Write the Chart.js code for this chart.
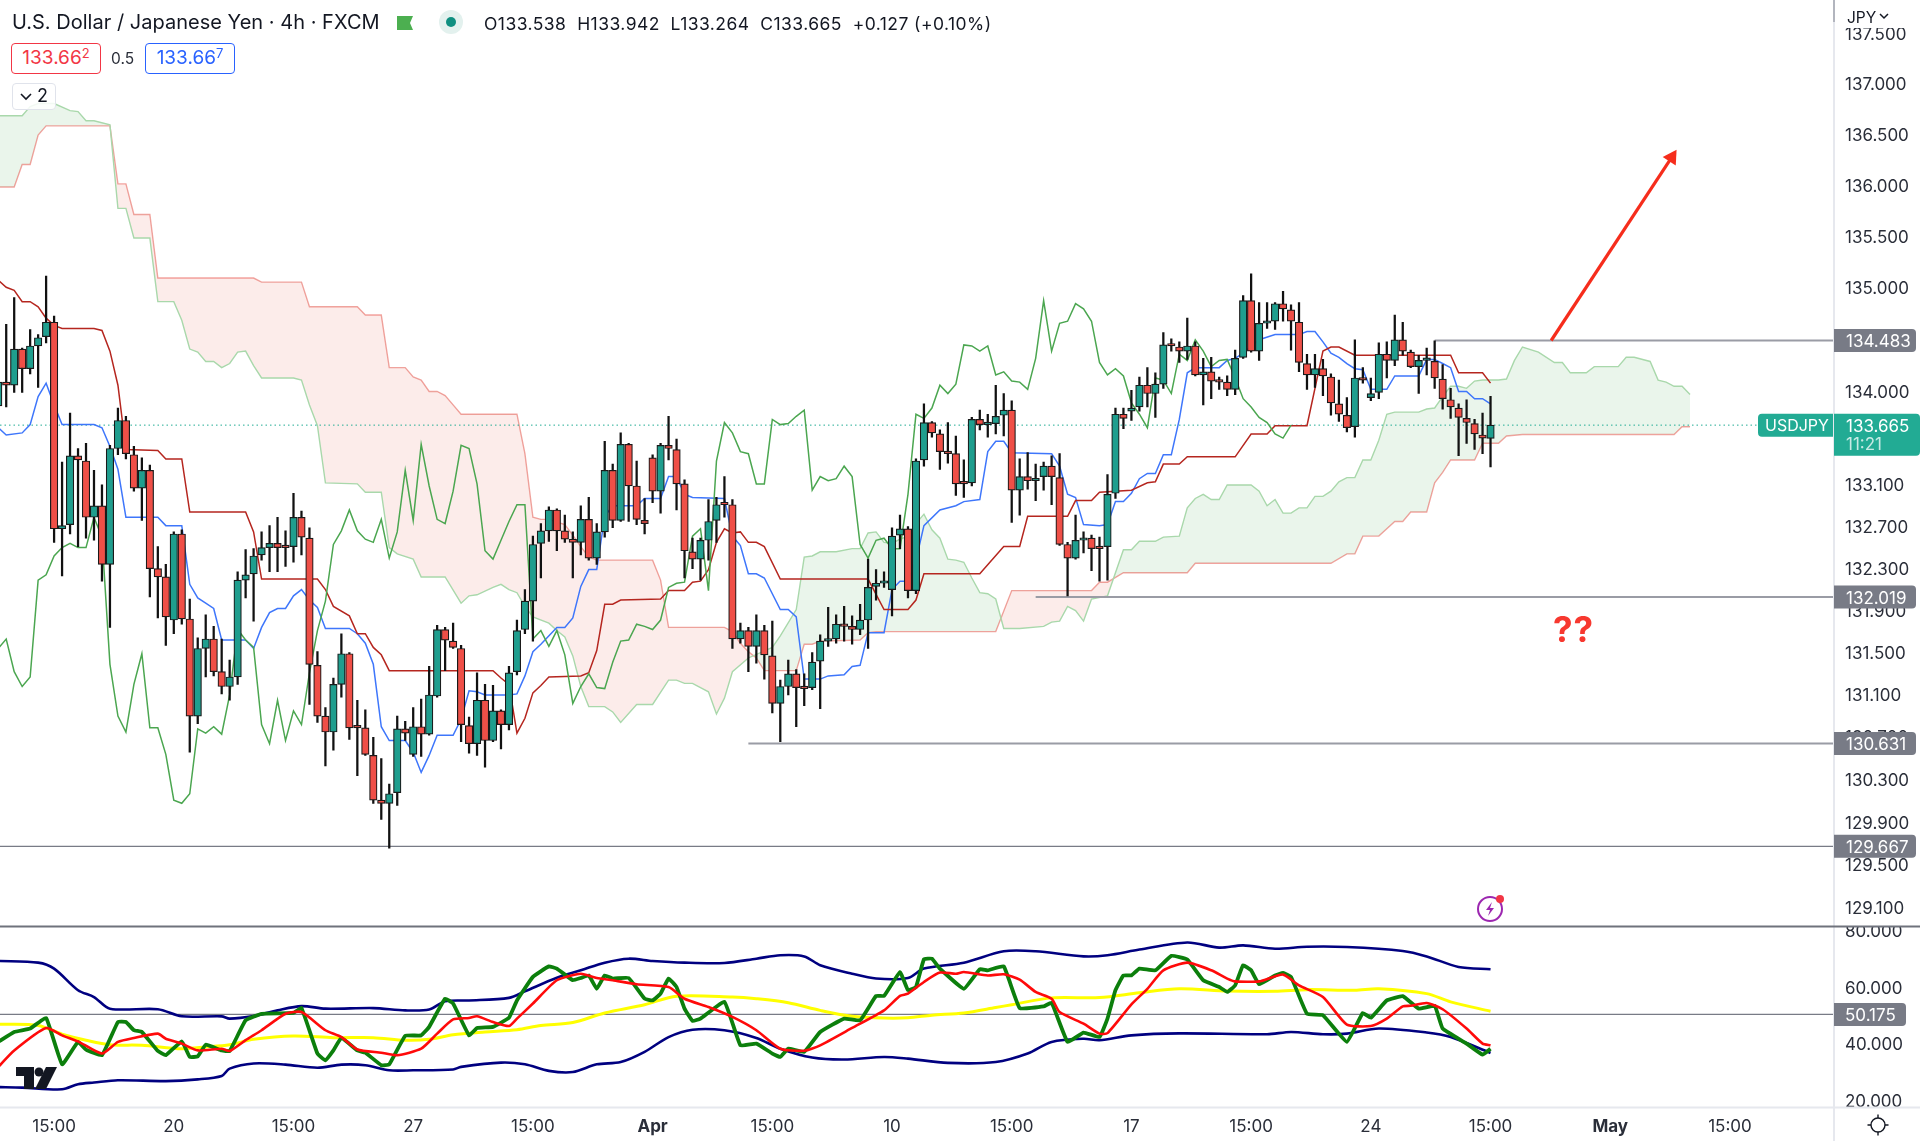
<!DOCTYPE html>
<html><head><meta charset="utf-8">
<script src="https://cdn.jsdelivr.net/npm/chart.js@4/dist/chart.umd.min.js"></script>
<style>
html,body{margin:0;padding:0;background:#fff;width:1920px;height:1141px;overflow:hidden;font-family:Inter,"Liberation Sans",sans-serif;color:#131722}
#c{position:absolute;left:0;top:0}
.o{position:absolute;white-space:nowrap}
.box{position:absolute;box-sizing:border-box;border-radius:4px;background:#fff;font-size:19px;text-align:center;line-height:28px;height:31px;top:43px}
sup{font-size:13px;vertical-align:6px;line-height:0}
</style></head><body>
<canvas id="c" width="1920" height="1141"></canvas>
<div class="o" style="left:12px;top:10px;font-size:20px;line-height:24px;letter-spacing:.02px">U.S. Dollar / Japanese Yen · 4h · FXCM</div>
<svg class="o" style="left:397px;top:13px" width="20" height="20"><path d="M0 3H16L13 10L16 17H0Z" fill="#4caf50"/></svg>
<svg class="o" style="left:438px;top:9px" width="26" height="26"><circle cx="13" cy="13" r="12" fill="#e3f1ee"/><circle cx="13" cy="13" r="5" fill="#0f8f80"/></svg>
<div class="o" style="left:484px;top:13px;font-size:17.5px;line-height:22px;letter-spacing:.45px;word-spacing:0">O133.538&nbsp; H133.942&nbsp; L133.264&nbsp; C133.665&nbsp; +0.127 (+0.10%)</div>
<div class="box" style="left:11px;width:90px;border:1.5px solid #f23645;color:#f23645">133.66<sup>2</sup></div>
<div class="o" style="left:111px;top:49px;font-size:15.5px;line-height:20px;color:#2a2e39">0.5</div>
<div class="box" style="left:145px;width:90px;border:1.5px solid #2962ff;color:#2962ff">133.66<sup>7</sup></div>
<div class="o" style="left:12px;top:83px;width:44px;height:27px;box-sizing:border-box;border:1.5px solid #e0e3eb;border-radius:4px;background:rgba(255,255,255,.85);font-size:18px;line-height:24px"><svg style="position:absolute;left:6px;top:8px" width="14" height="10"><path d="M2 2L7 7L12 2" fill="none" stroke="#131722" stroke-width="1.6"/></svg><span style="position:absolute;left:24px">2</span></div>
<div class="o" style="left:1570px;top:608px;transform:translateX(-17px);font-size:35px;font-weight:700;line-height:42px;color:#f7382f;letter-spacing:1px">??</div>
<svg class="o" style="left:1475px;top:892px" width="32" height="32"><circle cx="15" cy="17" r="12" fill="#fff" stroke="#9c27b0" stroke-width="2"/><path d="M17 10L11 18H15L13 24L19 16H15Z" fill="#9c27b0"/><circle cx="25" cy="7" r="4" fill="#f23645"/></svg>
<svg class="o" style="left:14px;top:1065px" width="46" height="26"><path d="M2 2H20V24H10V11H2Z" fill="#131722"/><circle cx="25" cy="7" r="4.5" fill="#131722"/><path d="M32 2H43L32 24H21Z" fill="#131722"/></svg>
<div class="o" style="left:1847px;top:8px;font-size:15.5px;line-height:20px;z-index:2">JPY<svg style="margin-left:3px;vertical-align:3px" width="10" height="7"><path d="M1 1L5 5L9 1" fill="none" stroke="#131722" stroke-width="1.5"/></svg></div>
<svg class="o" style="left:1866px;top:1113px;z-index:2" width="24" height="24" fill="none" stroke="#131722" stroke-width="1.4"><circle cx="12" cy="12" r="7"/><path d="M12 1.5V5M12 19V22.5M1.5 12H5M19 12H22.5"/></svg>
<script>
// --- candles (USD/JPY, 4h) ---
const opens=[133.85,134.08,134.05,134.40,134.21,134.43,134.52,134.66,132.67,132.71,133.37,133.32,132.78,132.89,132.33,133.44,133.71,133.38,133.06,133.23,132.29,132.21,131.80,132.62,131.81,130.89,131.53,131.62,131.31,131.17,131.26,132.18,132.24,132.42,132.49,132.53,132.50,132.50,132.78,132.58,131.37,130.89,130.74,131.19,131.48,130.79,130.78,130.52,130.10,130.07,130.17,130.77,130.53,130.79,130.72,131.08,131.71,131.60,131.53,130.80,130.63,131.04,130.66,130.94,130.81,131.31,131.71,131.98,132.53,132.65,132.85,132.65,132.57,132.54,132.76,132.39,132.64,133.23,132.75,133.48,133.08,132.75,133.35,133.03,133.47,133.43,133.10,132.45,132.38,132.56,132.75,132.91,132.90,131.62,131.70,131.55,131.70,131.46,131.01,131.17,131.29,131.16,131.16,131.41,131.60,131.62,131.76,131.74,131.71,131.80,132.12,132.15,132.09,132.61,132.67,132.08,133.33,133.69,133.58,133.40,133.39,133.11,133.11,133.72,133.67,133.68,133.76,133.81,133.04,133.17,133.13,133.17,133.27,133.16,132.52,132.39,132.56,132.58,132.49,132.50,133.01,133.77,133.80,133.84,134.05,133.97,134.06,134.44,134.42,134.38,134.43,134.15,134.18,134.09,134.08,134.01,134.32,134.87,134.38,134.65,134.67,134.84,134.78,134.66,134.26,134.15,134.21,134.13,133.87,133.76,133.65,134.12,133.93,133.98,134.35,134.29,134.49,134.37,134.23,134.29,134.28,134.11,133.91,133.83,133.73,133.68,133.57,133.538];
const highs=[134.16,134.64,134.90,134.41,134.59,134.54,135.11,134.72,133.31,133.78,133.44,133.49,133.23,133.09,133.47,133.83,133.75,133.46,133.35,133.28,132.50,132.33,132.64,132.66,132.00,131.63,131.85,131.74,131.62,131.42,132.26,132.47,132.48,132.64,132.70,132.78,132.65,133.01,132.84,132.68,131.50,130.97,131.25,131.67,131.49,131.04,130.95,130.69,130.49,130.25,130.89,130.84,130.97,131.05,131.36,131.75,131.73,131.77,131.56,130.88,131.30,131.19,131.18,130.95,131.36,131.80,132.09,132.60,132.72,132.88,132.86,132.80,132.64,132.89,132.97,132.72,133.51,133.29,133.59,133.49,133.32,132.96,133.38,133.49,133.75,133.53,133.14,132.58,132.58,132.95,132.97,133.17,132.95,131.77,131.73,131.85,131.75,131.79,131.23,131.42,131.33,131.29,131.49,131.66,131.92,131.85,131.93,131.84,131.95,132.38,132.28,132.26,132.68,132.80,132.69,133.34,133.87,133.70,133.62,133.69,133.56,133.33,133.74,133.81,133.77,134.05,133.97,133.90,133.34,133.40,133.29,133.31,133.37,133.39,132.54,132.80,132.64,132.61,132.59,133.19,133.83,133.83,134.00,134.13,134.22,134.17,134.56,134.50,134.47,134.70,134.47,134.31,134.32,134.13,134.14,134.39,134.92,135.13,134.85,134.85,134.85,134.96,134.83,134.85,134.35,134.35,134.30,134.16,134.10,133.93,134.49,134.22,134.12,134.46,134.47,134.73,134.66,134.39,134.34,134.41,134.48,134.25,134.02,133.87,133.91,133.72,133.78,133.942];
const lows=[133.81,133.84,133.98,133.98,134.16,134.03,134.46,132.54,132.22,132.62,132.50,132.58,132.56,132.17,131.73,133.38,133.34,133.03,132.75,132.02,131.82,131.56,131.67,131.76,130.55,130.82,131.26,131.27,131.10,131.04,131.19,132.01,131.79,132.37,132.26,132.26,132.31,132.35,132.42,131.00,130.83,130.42,130.57,131.07,130.67,130.33,130.52,130.07,129.92,129.65,130.05,130.66,130.51,130.51,130.71,131.07,131.32,131.53,130.65,130.54,130.52,130.41,130.65,130.58,130.76,131.28,131.67,131.60,132.20,132.55,132.46,132.54,132.20,132.42,132.37,132.33,132.59,132.68,132.74,132.74,132.71,132.62,132.92,132.82,133.33,132.85,132.20,132.29,132.18,132.37,132.54,132.78,131.53,131.58,131.31,131.39,131.24,130.92,130.65,131.09,130.79,130.99,131.14,130.96,131.55,131.58,131.60,131.57,131.66,131.53,131.99,132.11,131.84,132.48,132.01,132.05,133.27,133.55,133.24,133.30,132.99,132.97,133.08,133.62,133.55,133.58,133.56,132.73,132.80,133.05,132.94,133.04,132.90,132.51,132.03,132.38,132.44,132.27,132.17,132.18,132.96,133.63,133.71,133.80,133.84,133.74,134.02,134.38,134.27,134.30,134.14,133.86,133.92,134.01,133.95,133.96,134.31,134.37,134.29,134.60,134.59,134.67,134.39,134.18,134.01,134.03,133.95,133.76,133.70,133.60,133.55,134.07,133.90,133.92,134.12,134.24,134.34,134.22,133.97,134.15,134.02,133.82,133.73,133.37,133.49,133.43,133.39,133.264];
const closes=[134.08,134.05,134.40,134.21,134.43,134.51,134.66,132.67,132.70,133.37,133.33,132.78,132.89,132.33,133.44,133.71,133.39,133.06,133.23,132.29,132.21,131.83,132.62,131.81,130.89,131.53,131.62,131.31,131.17,131.26,132.18,132.23,132.41,132.49,132.53,132.49,132.49,132.78,132.59,131.38,130.89,130.74,131.19,131.48,130.78,130.78,130.53,130.10,130.07,130.16,130.77,130.73,130.79,130.72,131.09,131.71,131.61,131.54,130.81,130.63,131.04,130.66,130.94,130.81,131.30,131.70,131.98,132.52,132.65,132.85,132.65,132.57,132.54,132.76,132.39,132.64,133.23,132.75,133.48,133.08,132.76,132.72,133.03,133.47,133.44,133.10,132.46,132.38,132.56,132.74,132.90,132.90,131.62,131.70,131.55,131.70,131.47,131.01,131.17,131.29,131.16,131.15,131.40,131.60,131.61,131.76,131.74,131.71,131.80,132.11,132.15,132.16,132.60,132.67,132.08,133.32,133.69,133.59,133.41,133.39,133.10,133.10,133.72,133.67,133.68,133.75,133.81,133.04,133.17,133.13,133.15,133.27,133.17,132.52,132.39,132.56,132.58,132.48,132.48,133.00,133.77,133.73,133.83,134.05,133.97,134.06,134.44,134.43,134.38,134.43,134.15,134.18,134.09,134.08,134.01,134.31,134.87,134.38,134.65,134.67,134.84,134.79,134.67,134.27,134.15,134.21,134.14,133.88,133.77,133.64,134.12,134.10,133.97,134.35,134.29,134.49,134.38,134.23,134.29,134.30,134.12,133.92,133.84,133.74,133.69,133.58,133.54,133.665];
// --- ichimoku lines: [bar, price] ---
const chikou=[131.53,131.62,131.31,131.17,131.26,132.18,132.23,132.41,132.49,132.53,132.49,132.49,132.78,132.59,131.38,130.89,130.74,131.19,131.48,130.78,130.78,130.53,130.10,130.07,130.16,130.77,130.73,130.79,130.72,131.09,131.71,131.61,131.54,130.81,130.63,131.04,130.66,130.94,130.81,131.30,131.70,131.98,132.52,132.65,132.85,132.65,132.57,132.54,132.76,132.39,132.64,133.23,132.75,133.48,133.08,132.76,132.72,133.03,133.47,133.44,133.10,132.46,132.38,132.56,132.74,132.90,132.90,131.62,131.70,131.55,131.70,131.47,131.01,131.17,131.29,131.16,131.15,131.40,131.60,131.61,131.76,131.74,131.71,131.80,132.11,132.15,132.16,132.60,132.67,132.08,133.32,133.69,133.59,133.41,133.39,133.10,133.10,133.72,133.67,133.68,133.75,133.81,133.04,133.17,133.13,133.15,133.27,133.17,132.52,132.39,132.56,132.58,132.48,132.48,133.00,133.77,133.73,133.83,134.05,133.97,134.06,134.44,134.43,134.38,134.43,134.15,134.18,134.09,134.08,134.01,134.31,134.87,134.38,134.65,134.67,134.84,134.79,134.67,134.27,134.15,134.21,134.14,133.88,133.77,133.64,134.12,134.10,133.97,134.35,134.29,134.49,134.38,134.23,134.29,134.30,134.12,133.92,133.84,133.74,133.69,133.58,133.54,133.665];
const tenkan=[[0,133.64],[1,133.57],[3,133.59],[4,133.67],[5,133.94],[6,134.07],[7,133.86],[8,133.67],[12,133.67],[13,133.64],[14,133.46],[15,133.24],[16,132.78],[20,132.78],[21,132.70],[23,132.70],[24,132.14],[25,132.01],[26,131.96],[27,131.91],[28,131.61],[31,131.61],[32,131.53],[33,131.73],[34,131.87],[35,131.91],[36,131.91],[37,132.03],[38,132.09],[39,131.99],[40,131.92],[41,131.72],[44,131.72],[45,131.67],[46,131.58],[47,131.38],[48,130.79],[49,130.66],[51,130.66],[52,130.55],[53,130.36],[54,130.52],[55,130.71],[57,130.71],[58,130.86],[59,131.13],[60,131.12],[61,131.09],[64,131.09],[65,131.10],[66,131.27],[67,131.50],[68,131.57],[70,131.73],[71,131.73],[72,131.82],[73,132.12],[74,132.28],[75,132.28],[76,132.79],[77,132.89],[80,132.89],[81,132.96],[83,132.96],[84,133.17],[85,133.17],[86,133.00],[87,132.97],[91,132.96],[92,132.60],[93,132.51],[94,132.24],[95,132.24],[96,132.20],[98,131.90],[99,131.90],[100,131.83],[101,131.24],[103,131.24],[104,131.27],[106,131.28],[107,131.36],[108,131.37],[109,131.68],[111,131.68],[112,132.09],[113,132.17],[114,132.17],[115,132.37],[116,132.70],[118,132.85],[120,132.89],[121,132.93],[123,132.95],[124,133.41],[125,133.51],[126,133.51],[127,133.40],[132,133.39],[133,133.27],[134,133.00],[135,132.97],[136,132.71],[138,132.70],[139,132.71],[140,132.93],[141,132.93],[142,133.01],[143,133.15],[144,133.20],[145,133.20],[146,133.38],[147,133.38],[148,133.72],[149,134.17],[150,134.22],[153,134.22],[154,134.29],[155,134.31],[156,134.36],[158,134.49],[160,134.54],[163,134.54],[164,134.57],[165,134.57],[166,134.47],[167,134.36],[168,134.32],[169,134.26],[170,134.21],[171,134.20],[172,134.01],[174,134.01],[175,134.14],[178,134.14],[179,134.30],[180,134.30],[181,134.26],[182,134.22],[183,133.99],[184,133.99],[185,133.92],[186,133.92],[187,133.87]];
const kijun=[[0,135.07],[1,135.00],[2,134.97],[3,134.86],[4,134.86],[5,134.81],[6,134.70],[7,134.63],[8,134.60],[12,134.60],[13,134.58],[14,134.38],[15,134.05],[16,133.43],[20,133.42],[21,133.34],[23,133.34],[24,132.83],[31,132.83],[32,132.64],[33,132.19],[40,132.19],[41,132.09],[42,131.93],[44,131.84],[45,131.67],[46,131.67],[47,131.54],[48,131.47],[49,131.32],[62,131.32],[63,131.25],[64,131.19],[65,130.73],[66,130.87],[67,131.11],[68,131.18],[69,131.26],[73,131.27],[74,131.30],[75,131.51],[76,131.95],[77,131.95],[78,131.99],[83,132.00],[84,132.08],[86,132.08],[87,132.16],[88,132.17],[89,132.28],[90,132.54],[91,132.67],[92,132.63],[93,132.64],[94,132.54],[95,132.54],[96,132.50],[98,132.19],[109,132.19],[111,131.90],[114,131.90],[115,131.99],[116,132.24],[123,132.24],[126,132.50],[128,132.50],[129,132.79],[134,132.79],[135,132.94],[137,132.94],[138,133.02],[142,133.04],[144,133.11],[145,133.12],[146,133.29],[148,133.29],[149,133.36],[155,133.36],[157,133.58],[159,133.58],[160,133.66],[164,133.66],[166,134.38],[167,134.42],[168,134.42],[170,134.34],[182,134.34],[183,134.17],[186,134.17],[187,134.07]];
const senkouA=[[0,136.68],[3,136.68],[4,136.77],[5,136.80],[7,136.80],[9,136.73],[10,136.72],[11,136.63],[12,136.63],[14,136.59],[15,135.77],[16,135.77],[17,135.48],[19,135.48],[20,134.86],[22,134.86],[23,134.68],[24,134.40],[25,134.37],[26,134.28],[27,134.28],[28,134.22],[29,134.26],[30,134.37],[31,134.38],[32,134.24],[33,134.12],[37,134.12],[38,134.10],[39,133.86],[40,133.66],[41,133.11],[45,133.10],[46,133.02],[48,133.02],[49,132.49],[50,132.43],[52,132.38],[53,132.21],[56,132.21],[58,131.96],[59,132.03],[60,132.04],[62,132.11],[63,132.14],[64,132.09],[65,132.06],[66,131.93],[67,131.83],[69,131.77],[70,131.70],[71,131.64],[72,131.46],[73,131.17],[74,130.98],[76,130.98],[77,130.93],[78,130.83],[80,131.00],[82,131.00],[84,131.23],[85,131.23],[86,131.20],[87,131.20],[89,131.12],[90,130.91],[91,131.06],[92,131.31],[94,131.44],[97,131.54],[98,131.65],[100,131.90],[101,132.40],[102,132.41],[103,132.45],[105,132.45],[107,132.48],[108,132.48],[109,132.63],[110,132.64],[111,132.54],[112,132.53],[113,132.57],[114,132.60],[115,132.72],[116,132.81],[117,132.66],[118,132.58],[119,132.38],[120,132.37],[121,132.35],[122,132.20],[123,132.06],[124,132.05],[125,132.00],[126,131.72],[128,131.72],[131,131.74],[132,131.78],[133,131.79],[134,131.93],[135,131.89],[136,131.79],[137,132.00],[139,132.03],[141,132.47],[142,132.47],[143,132.55],[145,132.55],[146,132.59],[148,132.60],[149,132.87],[150,132.96],[151,133.00],[152,132.95],[153,132.95],[154,133.09],[157,133.09],[158,133.03],[159,132.89],[160,132.95],[161,132.82],[162,132.82],[163,132.87],[164,132.87],[165,132.98],[166,132.98],[167,133.03],[168,133.12],[169,133.16],[170,133.16],[171,133.33],[172,133.33],[173,133.52],[174,133.77],[175,133.79],[178,133.79],[179,133.82],[180,133.83],[181,133.94],[182,134.04],[183,134.04],[184,134.02],[185,134.09],[186,134.10],[188,134.10],[189,134.11],[190,134.29],[191,134.42],[193,134.37],[195,134.27],[196,134.27],[197,134.17],[199,134.17],[200,134.23],[203,134.23],[204,134.32],[205,134.32],[207,134.28],[208,134.10],[209,134.08],[210,134.04],[211,134.04],[212,133.96]];
const senkouB=[[0,135.98],[2,135.98],[3,136.20],[4,136.20],[5,136.49],[6,136.58],[14,136.58],[15,136.01],[16,136.01],[17,135.71],[19,135.71],[20,135.09],[32,135.09],[33,135.05],[38,135.05],[39,134.81],[45,134.81],[46,134.73],[48,134.73],[49,134.22],[51,134.22],[52,134.13],[53,134.10],[54,133.99],[55,133.99],[56,133.95],[57,133.86],[58,133.77],[65,133.77],[66,133.39],[67,132.78],[68,132.76],[69,132.76],[71,132.71],[72,132.61],[73,132.50],[74,132.40],[75,132.37],[82,132.37],[83,132.18],[84,131.73],[91,131.73],[92,131.69],[93,131.58],[94,131.50],[95,131.44],[96,131.32],[100,131.32],[101,131.57],[102,131.57],[103,131.60],[108,131.61],[109,131.68],[110,131.69],[125,131.69],[127,132.08],[137,132.08],[138,132.16],[139,132.16],[141,132.25],[149,132.25],[150,132.34],[167,132.34],[169,132.43],[170,132.43],[171,132.60],[173,132.60],[175,132.74],[176,132.74],[177,132.83],[179,132.83],[180,133.11],[181,133.21],[182,133.33],[185,133.33],[186,133.49],[188,133.49],[189,133.56],[191,133.575],[210,133.575],[211,133.65],[212,133.65]];
// --- oscillator lines: [bar, value] ---
const oscGreen=[[0,40.5],[2,44.0],[4,45.2],[6,48.9],[8,32.6],[10,40.5],[11,37.8],[13,35.8],[15,47.5],[16,47.5],[17,44.6],[18,44.0],[20,37.3],[21,35.8],[23,40.7],[24,35.2],[25,35.4],[26,39.5],[28,37.5],[29,37.3],[31,48.1],[33,50.4],[37,50.7],[38,52.4],[40,36.4],[41,34.0],[42,37.5],[43,41.9],[45,37.5],[46,36.7],[48,32.3],[49,32.6],[51,42.6],[53,42.8],[54,45.8],[56,55.7],[57,54.0],[59,42.8],[60,45.4],[62,45.8],[64,49.0],[65,55.1],[67,63.4],[69,67.1],[70,66.3],[72,62.2],[73,63.0],[74,63.9],[75,59.2],[76,63.9],[77,62.8],[79,63.0],[81,55.7],[82,55.1],[83,57.5],[84,62.8],[85,59.8],[86,52.2],[87,47.9],[88,48.7],[91,54.6],[93,39.3],[95,39.9],[97,36.4],[98,35.2],[99,38.1],[101,37.0],[103,44.0],[106,48.7],[108,48.1],[110,56.7],[111,56.7],[113,65.1],[114,58.7],[115,59.8],[116,69.6],[117,69.8],[118,66.3],[121,59.2],[123,66.1],[124,65.7],[126,67.1],[128,52.4],[131,53.0],[132,54.3],[134,40.5],[136,43.8],[138,42.2],[139,48.7],[140,58.7],[141,63.9],[142,63.9],[143,66.3],[145,65.7],[147,70.8],[149,69.5],[151,62.2],[153,59.8],[154,58.1],[155,60.4],[156,67.5],[157,65.7],[158,60.8],[160,63.9],[161,64.8],[162,63.4],[164,50.4],[166,49.9],[169,40.5],[171,50.7],[172,49.0],[174,55.1],[176,56.6],[178,52.2],[180,53.2],[181,45.2],[184,39.9],[186,36.0],[187,38.1]];
const oscRed=[[0,31.7],[2,37.5],[6,45.4],[8,42.8],[10,40.7],[13,36.4],[15,40.5],[17,41.9],[20,43.4],[21,41.6],[23,39.9],[25,37.5],[28,38.1],[29,37.3],[31,41.1],[33,44.6],[36,50.4],[38,51.0],[41,44.6],[43,42.2],[45,37.8],[48,36.7],[50,35.8],[53,38.1],[55,43.4],[57,48.4],[59,48.9],[60,49.5],[62,47.5],[64,46.1],[65,48.7],[67,54.0],[70,62.2],[73,64.5],[75,63.0],[77,62.2],[80,60.8],[84,59.8],[86,55.7],[89,52.8],[92,49.3],[95,44.6],[98,38.1],[101,37.4],[103,39.3],[107,45.4],[111,51.6],[113,56.7],[114,57.5],[116,61.6],[118,64.9],[120,64.5],[121,65.1],[124,63.9],[126,64.3],[128,62.4],[130,58.1],[132,55.7],[133,51.0],[136,46.9],[138,43.4],[139,43.6],[142,53.7],[144,59.2],[146,65.7],[149,68.4],[152,65.7],[154,62.8],[155,61.8],[158,61.8],[161,64.2],[163,60.4],[166,56.3],[169,46.6],[172,46.1],[174,48.7],[176,53.0],[177,53.2],[179,54.2],[181,52.0],[184,45.2],[186,39.9],[187,39.3]];
const oscYellow=[[0,46.7],[5,46.3],[8,43.2],[11,41.1],[14,39.5],[18,39.3],[23,38.1],[26,38.7],[29,39.5],[32,41.4],[37,42.6],[42,42.0],[47,42.0],[51,41.1],[54,41.4],[57,43.0],[61,44.0],[65,44.8],[68,46.3],[72,47.3],[76,50.7],[81,53.6],[85,56.6],[92,56.3],[95,55.7],[99,54.3],[103,51.6],[107,49.5],[111,48.9],[114,49.0],[117,49.9],[121,50.7],[125,52.6],[127,53.6],[132,56.0],[138,56.1],[143,57.8],[148,59.2],[154,58.4],[160,58.3],[164,58.9],[170,58.7],[173,59.2],[179,57.5],[182,54.6],[187,51.3]];
const oscUpper=[[0,69.0],[5,68.4],[7,66.3],[10,58.7],[12,56.3],[14,52.2],[20,52.0],[23,49.5],[28,49.5],[29,48.7],[32,49.6],[35,51.6],[38,53.1],[41,52.2],[47,52.4],[51,51.6],[54,51.9],[56,54.8],[59,55.1],[64,56.0],[66,58.3],[70,63.1],[73,65.7],[76,68.4],[79,69.8],[82,69.0],[86,68.4],[91,68.3],[95,69.8],[98,71.0],[101,70.6],[103,67.5],[107,64.5],[110,62.8],[114,63.0],[116,66.3],[121,68.4],[126,72.4],[130,72.4],[136,70.6],[139,71.0],[143,73.0],[149,75.5],[153,73.7],[156,74.5],[160,73.3],[164,74.0],[169,73.9],[176,72.5],[179,70.6],[183,66.9],[187,66.1]];
const oscLower=[[0,24.6],[3,24.4],[8,23.8],[10,25.6],[12,26.2],[15,27.0],[21,26.7],[25,27.3],[28,28.5],[29,31.1],[32,32.9],[36,32.5],[40,31.4],[43,32.5],[46,32.3],[49,30.5],[52,30.5],[57,30.8],[58,31.7],[63,33.2],[66,32.6],[69,30.3],[72,29.9],[75,32.6],[78,33.4],[81,37.0],[84,42.2],[87,44.8],[91,44.6],[95,41.9],[98,38.1],[102,35.0],[106,34.3],[111,35.2],[114,34.6],[119,33.1],[125,33.4],[129,36.4],[132,40.5],[136,41.6],[138,41.1],[142,42.8],[148,43.5],[159,43.2],[162,44.0],[166,43.2],[169,43.4],[173,45.2],[179,43.8],[182,42.2],[187,36.6]];
// --- levels, ticks, labels ---
const levelValues=[134.483,132.019,130.631,129.667];
const levelStartBars=[180,130,94,-1];
const oscLevel=50.175;
const lastPrice=133.665;
const countdown='11:21';
const symbol='USDJPY';
const arrowBars=[194.6,209.7];
const arrowPrices=[134.483,136.27];
const priceTicks=[137.5,137,136.5,136,135.5,135,134,133.1,132.7,132.3,131.9,131.5,131.1,130.7,130.3,129.9,129.5,129.1];
const oscTicks=[80,60,40,20];
const timeBars=[7,22,37,52,67,82,97,112,127,142,157,172,187,202,217];
const timeLabels=['15:00','20','15:00','27','15:00','Apr','15:00','10','15:00','17','15:00','24','15:00','May','15:00'];
const boldLabels=['Apr','May'];

const XMIN=0.2218, XMAX=230.04;
const TEAL='#1f9e8e', RED='#ef4f47', AXIS='#e6e8ee', GRAY='#787b86', FONT='Inter';
const pts=a=>a.map(p=>({x:p[0],y:p[1]}));
const idx=opens.map((_,i)=>i);
const candleColor=idx.map(i=>closes[i]>=opens[i]?TEAL:RED);
const line=(label,data,color,w,yAxisID,extra)=>Object.assign({type:'line',label,data:pts(data),borderColor:color,borderWidth:w,pointRadius:0,tension:0,yAxisID,xAxisID:'x',order:5},extra||{});

const datasets=[
  line('Senkou A',senkouA,'#a9d8ab',1.4,'y',{fill:{target:1,above:'rgba(67,160,71,0.11)',below:'rgba(229,72,60,0.105)'},order:9}),
  line('Senkou B',senkouB,'#f3a5a1',1.4,'y',{order:9}),
  line('Chikou',chikou.map((v,i)=>[i,v]),'#4ba650',1.5,'y'),
  line('Kijun',kijun,'#b5261f',1.5,'y'),
  line('Tenkan',tenkan,'#3e76fb',1.5,'y'),
  {type:'line',label:'Last',data:[{x:XMIN,y:lastPrice},{x:XMAX,y:lastPrice}],borderColor:'#22ab94',borderWidth:1,borderDash:[1.5,3],pointRadius:0,yAxisID:'y',xAxisID:'x',order:6},
  ...levelValues.map((v,k)=>({type:'line',label:'L'+v,data:[{x:levelStartBars[k],y:v},{x:XMAX,y:v}],borderColor:k===3?'#787b86':'#9a9ca5',borderWidth:k===3?1.3:2,pointRadius:0,yAxisID:'y',xAxisID:'x',order:4})),
  {type:'bar',label:'Wick',data:idx.map(i=>({x:i,y:[lows[i],highs[i]]})),backgroundColor:'#111',barThickness:1.6,grouped:false,yAxisID:'y',xAxisID:'x',order:2},
  {type:'bar',label:'Body',data:idx.map(i=>({x:i,y:[opens[i],closes[i]]})),backgroundColor:candleColor,borderColor:'#1a1a1a',borderWidth:1.2,borderSkipped:false,barThickness:7.5,minBarLength:2.5,grouped:false,yAxisID:'y',xAxisID:'x',order:1},
  {type:'line',label:'Arrow',data:arrowBars.map((b,k)=>({x:b,y:arrowPrices[k]})),borderColor:'#f62d1c',backgroundColor:'#f62d1c',borderWidth:3.2,pointRadius:[0,9],pointBorderWidth:0,pointStyle:'triangle',pointRotation:[0,33],yAxisID:'y',xAxisID:'x',order:0,clip:false},
  {type:'line',label:'OscLevel',data:[{x:XMIN,y:oscLevel},{x:XMAX,y:oscLevel}],borderColor:GRAY,borderWidth:1.3,pointRadius:0,yAxisID:'osc',xAxisID:'x',order:8},
  line('Upper',oscUpper,'#000080',2.6,'osc',{tension:.3,order:7}),
  line('Lower',oscLower,'#000080',2.6,'osc',{tension:.3,order:7}),
  line('Yellow',oscYellow,'#ffff00',3,'osc',{tension:.3,order:7}),
  line('Green',oscGreen,'#0c7f0c',3.8,'osc',{tension:.1,order:6}),
  line('Red',oscRed,'#ff0a0a',2.6,'osc',{tension:.2,order:5}),
];

function badge(ctx,x,y,w,h,color,text,tx){
  ctx.fillStyle=color;ctx.beginPath();ctx.roundRect(x,y,w,h,[0,4,4,0]);ctx.fill();
  ctx.fillStyle='#fff';ctx.textAlign='left';ctx.textBaseline='middle';ctx.fillText(text,tx,y+h/2+1.5);
}
const chrome={id:'chrome',afterDraw(c){
  const ctx=c.ctx,py=c.scales.y,oy=c.scales.osc;
  ctx.save();
  ctx.fillStyle='#fff';
  ctx.fillRect(1836,0,84,28);
  ctx.fillRect(1836,915,84,py.bottom-915);
  ctx.fillRect(1836,oy.bottom,84,1141-oy.bottom);
  ctx.fillStyle=AXIS;
  ctx.fillRect(1833,0,2,1141);
  ctx.fillRect(0,oy.bottom-1,1920,2);
  ctx.fillStyle='#b2b5be';ctx.fillRect(1833,0,2,22);
  ctx.fillStyle='#6f727c';ctx.fillRect(0,py.bottom-1,1920,2);
  ctx.font='17px '+FONT;
  levelValues.forEach(v=>{const y=py.getPixelForValue(v);badge(ctx,1834,y-11.5,82,23,GRAY,v.toFixed(3),1846);});
  const oyy=oy.getPixelForValue(oscLevel);badge(ctx,1834,oyy-11.5,72,23,GRAY,oscLevel.toFixed(3),1845);
  const ly=py.getPixelForValue(lastPrice);
  ctx.fillStyle='#22ab94';ctx.beginPath();ctx.roundRect(1758,ly-11.5,75,23,[4,0,0,4]);ctx.fill();
  ctx.fillStyle='#fff';ctx.textAlign='left';ctx.textBaseline='middle';ctx.font='16px '+FONT;ctx.fillText(symbol,1765,ly+1.5);
  ctx.font='17px '+FONT;
  ctx.fillStyle='#22ab94';ctx.beginPath();ctx.roundRect(1834,ly-11.5,86,42,[0,4,4,0]);ctx.fill();
  ctx.fillStyle='#fff';ctx.fillText(lastPrice.toFixed(3),1846,ly+1.5);
  ctx.fillStyle='rgba(255,255,255,.75)';ctx.fillText(countdown,1846,ly+20);
  ctx.restore();
}};
const noPad=s=>{s.paddingTop=0;s.paddingBottom=0;s.paddingLeft=0;s.paddingRight=0;};
const yBase={position:'right',type:'linear',stack:'panes',bounds:'data',grid:{display:false,drawTicks:false},border:{display:false},
  afterFit(s){s.width=86;noPad(s);}};
new Chart(document.getElementById('c').getContext('2d'),{
  type:'bar',
  data:{datasets},
  plugins:[chrome],
  options:{
    responsive:false,animation:false,devicePixelRatio:1,
    layout:{padding:0,autoPadding:false},
    plugins:{legend:{display:false},tooltip:{enabled:false},title:{display:false}},
    scales:{
      x:{type:'linear',position:'bottom',offset:false,min:XMIN,max:XMAX,bounds:'data',grid:{display:false,drawTicks:false,offset:false},border:{display:false},
        afterBuildTicks(s){s.ticks=timeBars.map(v=>({value:v}));},
        afterFit(s){s.height=33.5;noPad(s);},
        ticks:{autoSkip:false,maxRotation:0,padding:9,color:'#2a2e39',
          font:ctx=>({family:FONT,size:17,weight:boldLabels.includes(timeLabels[timeBars.indexOf(ctx.tick?ctx.tick.value:-1)])?'700':'400'}),
          callback:v=>timeLabels[timeBars.indexOf(v)]}},
      y:Object.assign({},yBase,{type:'logarithmic',min:128.92,max:137.825,stackWeight:926.5,
        afterBuildTicks(s){s.ticks=priceTicks.map(v=>({value:v}));},
        ticks:{autoSkip:false,padding:11,crossAlign:'near',labelOffset:2,color:'#2a2e39',font:{family:FONT,size:17},callback:v=>Number(v).toFixed(3)}}),
      osc:Object.assign({},yBase,{min:17.4,max:81.13,stackWeight:181,
        afterBuildTicks(s){s.ticks=oscTicks.map(v=>({value:v}));},
        ticks:{autoSkip:false,padding:11,crossAlign:'near',labelOffset:2,color:'#2a2e39',font:{family:FONT,size:17},callback:v=>Number(v).toFixed(3)}})
    }
  }
});
</script>
</body></html>
